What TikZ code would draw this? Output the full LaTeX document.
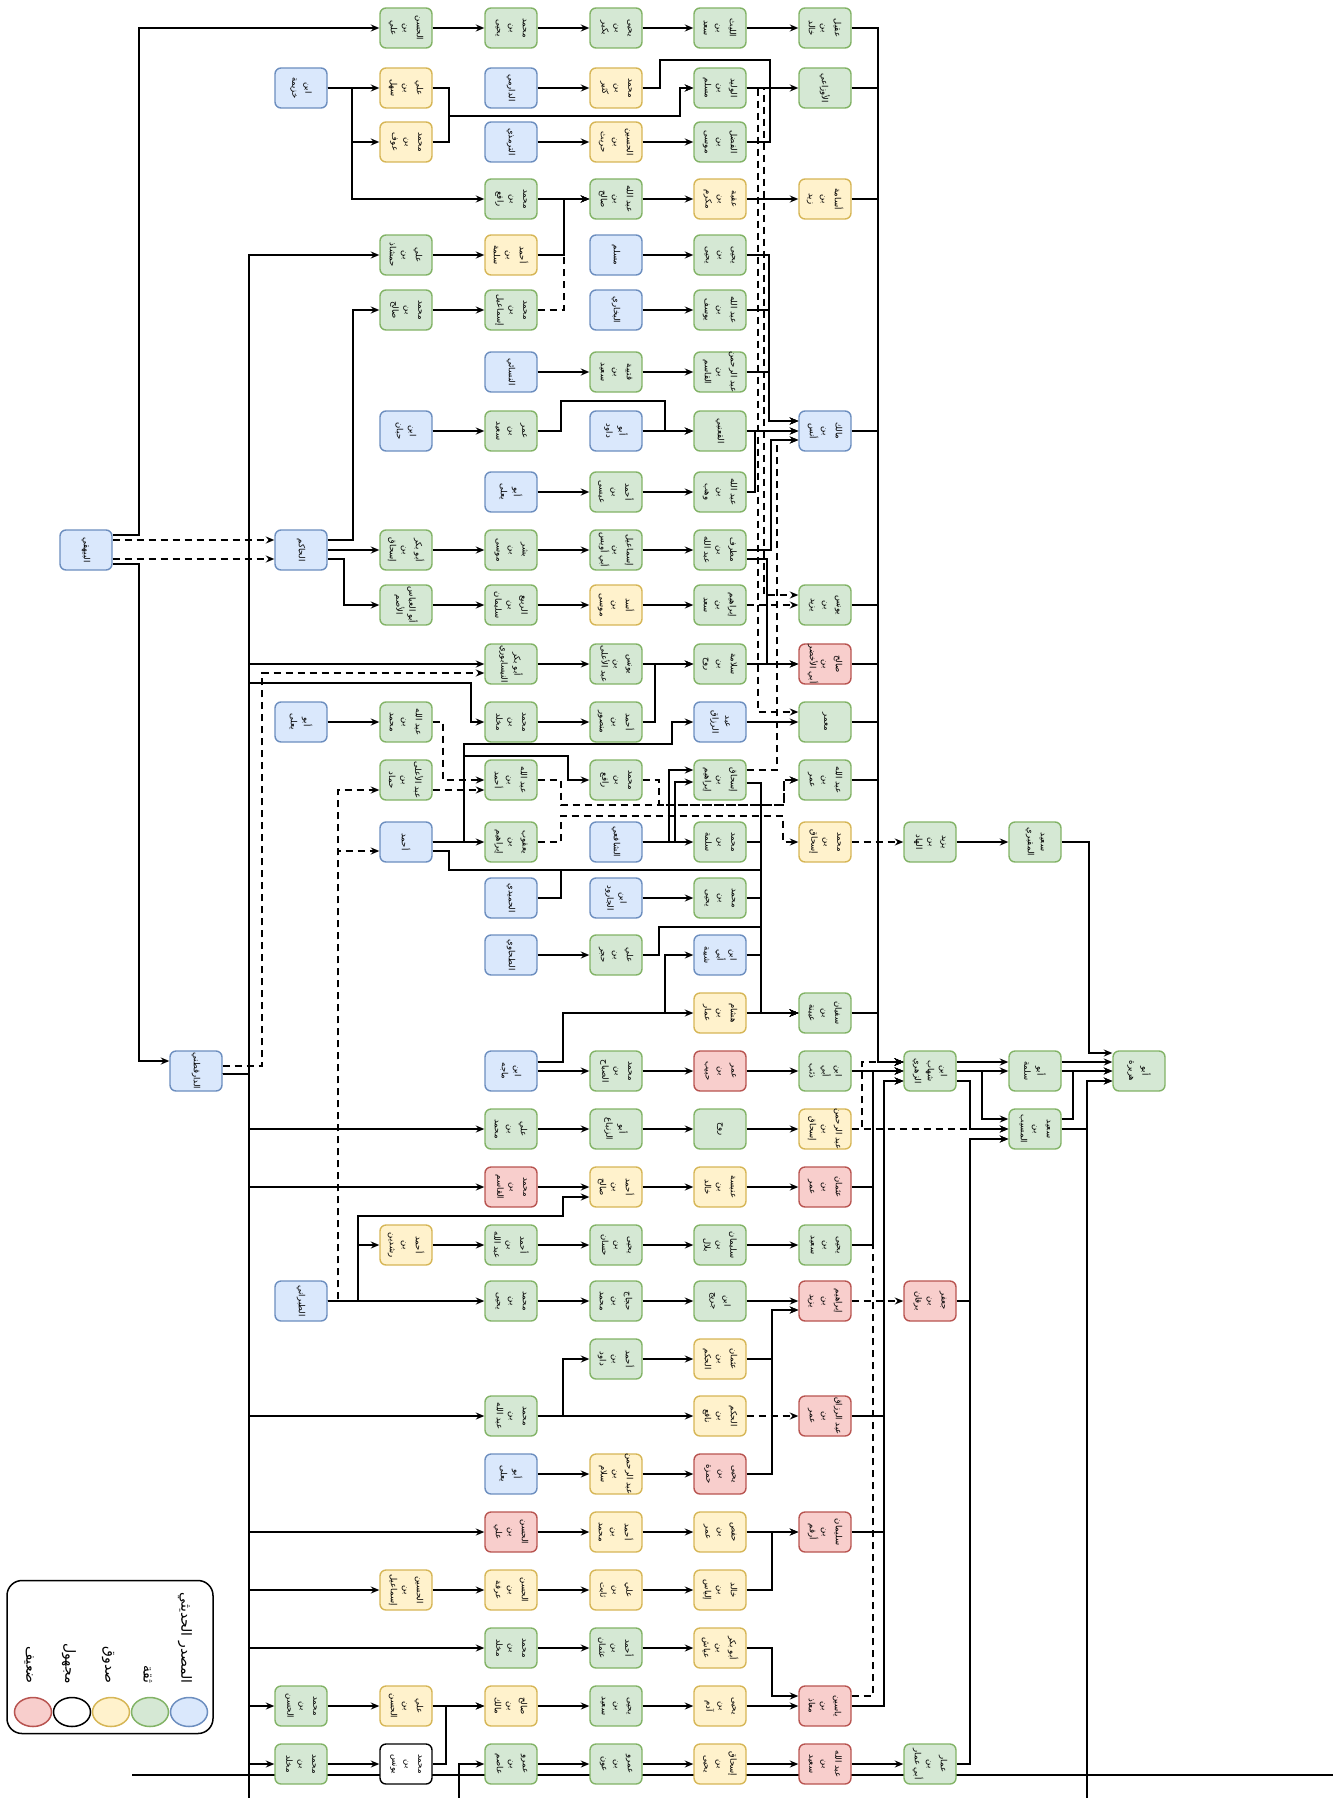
\documentclass[tikz,border=0pt]{standalone}
\usepackage{fontspec}
\usepackage{graphicx}
\usetikzlibrary{arrows.meta,shapes.geometric}
\newfontfamily\arabicfont[Script=Arabic]{DejaVu Sans}
\TeXXeTstate=1
\definecolor{bF}{HTML}{DAE8FC}\definecolor{bD}{HTML}{6C8EBF}
\definecolor{gF}{HTML}{D5E8D4}\definecolor{gD}{HTML}{82B366}
\definecolor{yF}{HTML}{FFF2CC}\definecolor{yD}{HTML}{D6B656}
\definecolor{rF}{HTML}{F8CECC}\definecolor{rD}{HTML}{B85450}
\newcommand\arw[1]{{#1}}
\newcommand\Wa[1]{\arw{#1}}
\newcommand\Wb[2]{\arw{#1}\\\arw{#2}}
\newcommand\Wc[3]{\arw{#1}\\\arw{#2}\\\arw{#3}}
\newcommand\nd[5]{\node[bx,#4] (#1) at (#2,#3) {}; \node[tx] (#1t) at (#1.center) {#5};}
\begin{document}
\begin{tikzpicture}[x=1pt,y=-1pt,
  bx/.style={draw, rounded corners=6pt, minimum width=52pt, minimum height=40pt, inner sep=0pt, line width=1.4pt},
  cB/.style={fill=bF, draw=bD}, cG/.style={fill=gF, draw=gD}, cY/.style={fill=yF, draw=yD},
  cR/.style={fill=rF, draw=rD}, cW/.style={fill=white, draw=black},
  tx/.style={rotate=-90, align=center, font=\arabicfont\fontsize{8.5}{13}\selectfont, inner sep=0pt},
  ln/.style={draw, line width=1.5pt},
  ar/.style={draw, line width=1.5pt, -{Stealth[length=8.5pt,width=7pt]}},
  da/.style={ar, dash pattern=on 7pt off 5pt},
  lt/.style={rotate=-90, font=\arabicfont\fontsize{14}{16}\selectfont, inner sep=0pt, anchor=east}]
\useasboundingbox (0,0) rectangle (1333,1798);
\coordinate (hl1) at (132,1775); \coordinate (hl2) at (1333,1775);
\draw[ln] (hl1) -- (hl2);
\coordinate (bot1) at (249,1798); \coordinate (bot2) at (459,1798); \coordinate (bot4) at (1087,1798);
% ---------------- nodes ----------------
\nd{r0c3}{406}{28}{cG}{\Wc{الحسن}{بن}{علي}}
\nd{r0c4}{511}{28}{cG}{\Wc{محمد}{بن}{يحيى}}
\nd{r0c5}{616}{28}{cG}{\Wc{يحيى}{بن}{بكير}}
\nd{r0c6}{720}{28}{cG}{\Wc{الليث}{بن}{سعد}}
\nd{r0c7}{825}{28}{cG}{\Wc{عقيل}{بن}{خالد}}
\nd{r1c2}{301}{88}{cB}{\Wb{ابن}{خزيمة}}
\nd{r1c3}{406}{88}{cY}{\Wc{علي}{بن}{سهل}}
\nd{r1c4}{511}{88}{cB}{\Wa{الدارمي}}
\nd{r1c5}{616}{88}{cY}{\Wc{محمد}{بن}{كثير}}
\nd{r1c6}{720}{88}{cG}{\Wc{الوليد}{بن}{مسلم}}
\nd{r1c7}{825}{88}{cG}{\Wa{الأوزاعي}}
\nd{r2c3}{406}{142}{cY}{\Wc{محمد}{بن}{عوف}}
\nd{r2c4}{511}{142}{cB}{\Wa{الترمذي}}
\nd{r2c5}{616}{142}{cY}{\Wc{الحسين}{بن}{حريث}}
\nd{r2c6}{720}{142}{cG}{\Wc{الفضل}{بن}{موسى}}
\nd{r3c4}{511}{199}{cG}{\Wc{محمد}{بن}{رافع}}
\nd{r3c5}{616}{199}{cG}{\Wc{\beginR عبد الله\endR}{بن}{صالح}}
\nd{r3c6}{720}{199}{cY}{\Wc{عقبة}{بن}{مكرم}}
\nd{r3c7}{825}{199}{cY}{\Wc{أسامة}{بن}{زيد}}
\nd{r4c3}{406}{255}{cG}{\Wc{علي}{بن}{حمشاذ}}
\nd{r4c4}{511}{255}{cY}{\Wc{أحمد}{بن}{سلمة}}
\nd{r4c5}{616}{255}{cB}{\Wa{مسلم}}
\nd{r4c6}{720}{255}{cG}{\Wc{يحيى}{بن}{يحيى}}
\nd{r5c3}{406}{310}{cG}{\Wc{محمد}{بن}{صالح}}
\nd{r5c4}{511}{310}{cG}{\Wc{محمد}{بن}{إسماعيل}}
\nd{r5c5}{616}{310}{cB}{\Wa{البخاري}}
\nd{r5c6}{720}{310}{cG}{\Wc{\beginR عبد الله\endR}{بن}{يوسف}}
\nd{r6c4}{511}{372}{cB}{\Wa{النسائي}}
\nd{r6c5}{616}{372}{cG}{\Wc{قتيبة}{بن}{سعيد}}
\nd{r6c6}{720}{372}{cG}{\Wc{\beginR عبد الرحمن\endR}{بن}{القاسم}}
\nd{r7c3}{406}{431}{cB}{\Wb{ابن}{حبان}}
\nd{r7c4}{511}{431}{cG}{\Wc{عمر}{بن}{سعيد}}
\nd{r7c5}{616}{431}{cB}{\Wb{أبو}{داود}}
\nd{r7c6}{720}{431}{cG}{\Wa{القعنبي}}
\nd{r7c7}{825}{431}{cB}{\Wc{مالك}{بن}{أنس}}
\nd{r8c4}{511}{492}{cB}{\Wb{أبو}{يعلى}}
\nd{r8c5}{616}{492}{cG}{\Wc{أحمد}{بن}{عيسى}}
\nd{r8c6}{720}{492}{cG}{\Wc{\beginR عبد الله\endR}{بن}{وهب}}
\nd{r9c0}{86}{550}{cB}{\Wa{البيهقي}}
\nd{r9c2}{301}{550}{cB}{\Wa{الحاكم}}
\nd{r9c3}{406}{550}{cG}{\Wc{\beginR أبو بكر\endR}{بن}{إسحاق}}
\nd{r9c4}{511}{550}{cG}{\Wc{بشر}{بن}{موسى}}
\nd{r9c5}{616}{550}{cG}{\Wc{إسماعيل}{بن}{\beginR أبي أويس\endR}}
\nd{r9c6}{720}{550}{cG}{\Wc{مطرف}{بن}{\beginR عبد الله\endR}}
\nd{r10c3}{406}{605}{cG}{\Wb{\beginR أبو العباس\endR}{الأصم}}
\nd{r10c4}{511}{605}{cG}{\Wc{الربيع}{بن}{سليمان}}
\nd{r10c5}{616}{605}{cY}{\Wc{أسد}{بن}{موسى}}
\nd{r10c6}{720}{605}{cG}{\Wc{إبراهيم}{بن}{سعد}}
\nd{r10c7}{825}{605}{cG}{\Wc{يونس}{بن}{يزيد}}
\nd{r11c4}{511}{664}{cG}{\Wb{\beginR أبو بكر\endR}{النيسابوري}}
\nd{r11c5}{616}{664}{cG}{\Wc{يونس}{بن}{\beginR عبد الأعلى\endR}}
\nd{r11c6}{720}{664}{cG}{\Wc{سلامة}{بن}{روح}}
\nd{r11c7}{825}{664}{cR}{\Wc{صالح}{بن}{\beginR أبي الأخضر\endR}}
\nd{r12c2}{301}{722}{cB}{\Wb{أبو}{يعلى}}
\nd{r12c3}{406}{722}{cG}{\Wc{\beginR عبد الله\endR}{بن}{محمد}}
\nd{r12c4}{511}{722}{cG}{\Wc{محمد}{بن}{مخلد}}
\nd{r12c5}{616}{722}{cG}{\Wc{أحمد}{بن}{منصور}}
\nd{r12c6}{720}{722}{cB}{\Wb{عبد}{الرزاق}}
\nd{r12c7}{825}{722}{cG}{\Wa{معمر}}
\nd{r13c3}{406}{780}{cG}{\Wc{\beginR عبد الأعلى\endR}{بن}{حماد}}
\nd{r13c4}{511}{780}{cG}{\Wc{\beginR عبد الله\endR}{بن}{أحمد}}
\nd{r13c5}{616}{780}{cG}{\Wc{محمد}{بن}{رافع}}
\nd{r13c6}{720}{780}{cG}{\Wc{إسحاق}{بن}{إبراهيم}}
\nd{r13c7}{825}{780}{cG}{\Wc{\beginR عبد الله\endR}{بن}{عمر}}
\nd{r14c3}{406}{842}{cB}{\Wa{أحمد}}
\nd{r14c4}{511}{842}{cG}{\Wc{يعقوب}{بن}{إبراهيم}}
\nd{r14c5}{616}{842}{cB}{\Wa{الشافعي}}
\nd{r14c6}{720}{842}{cG}{\Wc{محمد}{بن}{سلمة}}
\nd{r14c7}{825}{842}{cY}{\Wc{محمد}{بن}{إسحاق}}
\nd{r14c8}{930}{842}{cG}{\Wc{يزيد}{بن}{الهاد}}
\nd{r14c9}{1035}{842}{cG}{\Wb{سعيد}{المقبري}}
\nd{r15c4}{511}{898}{cB}{\Wa{الحميدي}}
\nd{r15c5}{616}{898}{cB}{\Wb{ابن}{الجارود}}
\nd{r15c6}{720}{898}{cG}{\Wc{محمد}{بن}{يحيى}}
\nd{r16c4}{511}{955}{cB}{\Wa{الطحاوي}}
\nd{r16c5}{616}{955}{cG}{\Wc{علي}{بن}{حجر}}
\nd{r16c6}{720}{955}{cB}{\Wc{ابن}{أبي}{شيبة}}
\nd{r17c6}{720}{1013}{cY}{\Wc{هشام}{بن}{عمار}}
\nd{r17c7}{825}{1013}{cG}{\Wc{سفيان}{بن}{عيينة}}
\nd{r18c1}{196}{1071}{cB}{\Wa{الدارقطني}}
\nd{r18c4}{511}{1071}{cB}{\Wb{ابن}{ماجه}}
\nd{r18c5}{616}{1071}{cG}{\Wc{محمد}{بن}{الصباح}}
\nd{r18c6}{720}{1071}{cR}{\Wc{عمر}{بن}{حبيب}}
\nd{r18c7}{825}{1071}{cG}{\Wc{ابن}{أبي}{ذئب}}
\nd{r18c8}{930}{1071}{cG}{\Wc{ابن}{شهاب}{الزهري}}
\nd{r18c9}{1035}{1071}{cG}{\Wb{أبو}{سلمة}}
\nd{r18c10}{1139}{1071}{cG}{\Wb{أبو}{هريرة}}
\nd{r19c4}{511}{1129}{cG}{\Wc{علي}{بن}{محمد}}
\nd{r19c5}{616}{1129}{cG}{\Wb{أبو}{الزنباع}}
\nd{r19c6}{720}{1129}{cG}{\Wa{روح}}
\nd{r19c7}{825}{1129}{cY}{\Wc{\beginR عبد الرحمن\endR}{بن}{إسحاق}}
\nd{r19c9}{1035}{1129}{cG}{\Wc{سعيد}{بن}{المسيب}}
\nd{r20c4}{511}{1187}{cR}{\Wc{محمد}{بن}{القاسم}}
\nd{r20c5}{616}{1187}{cY}{\Wc{أحمد}{بن}{صالح}}
\nd{r20c6}{720}{1187}{cY}{\Wc{عنبسة}{بن}{خالد}}
\nd{r20c7}{825}{1187}{cR}{\Wc{عثمان}{بن}{عمر}}
\nd{r21c3}{406}{1245}{cY}{\Wc{أحمد}{بن}{رشدين}}
\nd{r21c4}{511}{1245}{cG}{\Wc{أحمد}{بن}{\beginR عبد الله\endR}}
\nd{r21c5}{616}{1245}{cG}{\Wc{يحيى}{بن}{حسان}}
\nd{r21c6}{720}{1245}{cG}{\Wc{سليمان}{بن}{بلال}}
\nd{r21c7}{825}{1245}{cG}{\Wc{يحيى}{بن}{سعيد}}
\nd{r22c2}{301}{1301}{cB}{\Wa{الطبراني}}
\nd{r22c4}{511}{1301}{cG}{\Wc{محمد}{بن}{يحيى}}
\nd{r22c5}{616}{1301}{cG}{\Wc{حجاج}{بن}{محمد}}
\nd{r22c6}{720}{1301}{cG}{\Wb{ابن}{جريج}}
\nd{r22c7}{825}{1301}{cR}{\Wc{إبراهيم}{بن}{يزيد}}
\nd{r22c8}{930}{1301}{cR}{\Wc{جعفر}{بن}{برقان}}
\nd{r23c5}{616}{1359}{cG}{\Wc{أحمد}{بن}{داود}}
\nd{r23c6}{720}{1359}{cY}{\Wc{عثمان}{بن}{الحكم}}
\nd{r24c4}{511}{1416}{cG}{\Wc{محمد}{بن}{\beginR عبد الله\endR}}
\nd{r24c6}{720}{1416}{cY}{\Wc{الحكم}{بن}{نافع}}
\nd{r24c7}{825}{1416}{cR}{\Wc{\beginR عبد الرزاق\endR}{بن}{عمر}}
\nd{r25c4}{511}{1474}{cB}{\Wb{أبو}{يعلى}}
\nd{r25c5}{616}{1474}{cY}{\Wc{\beginR عبد الرحمن\endR}{بن}{سلام}}
\nd{r25c6}{720}{1474}{cR}{\Wc{يحيى}{بن}{حمزة}}
\nd{r26c4}{511}{1532}{cR}{\Wc{الحسن}{بن}{علي}}
\nd{r26c5}{616}{1532}{cY}{\Wc{أحمد}{بن}{محمد}}
\nd{r26c6}{720}{1532}{cY}{\Wc{حفص}{بن}{عمر}}
\nd{r26c7}{825}{1532}{cR}{\Wc{سليمان}{بن}{أرقم}}
\nd{r27c3}{406}{1590}{cY}{\Wc{الحسين}{بن}{إسماعيل}}
\nd{r27c4}{511}{1590}{cY}{\Wc{الحسن}{بن}{عرفة}}
\nd{r27c5}{616}{1590}{cY}{\Wc{علي}{بن}{ثابت}}
\nd{r27c6}{720}{1590}{cY}{\Wc{خالد}{بن}{إلياس}}
\nd{r28c4}{511}{1648}{cG}{\Wc{محمد}{بن}{مخلد}}
\nd{r28c5}{616}{1648}{cG}{\Wc{أحمد}{بن}{عثمان}}
\nd{r28c6}{720}{1648}{cY}{\Wc{\beginR أبو بكر\endR}{بن}{عياش}}
\nd{r29c2}{301}{1706}{cG}{\Wc{محمد}{بن}{الحسن}}
\nd{r29c3}{406}{1706}{cY}{\Wc{علي}{بن}{الحسن}}
\nd{r29c4}{511}{1706}{cY}{\Wc{صالح}{بن}{مالك}}
\nd{r29c5}{616}{1706}{cG}{\Wc{يحيى}{بن}{سعيد}}
\nd{r29c6}{720}{1706}{cY}{\Wc{يحيى}{بن}{آدم}}
\nd{r29c7}{825}{1706}{cR}{\Wc{ياسين}{بن}{معاذ}}
\nd{r30c2}{301}{1764}{cG}{\Wc{محمد}{بن}{مخلد}}
\nd{r30c3}{406}{1764}{cW}{\Wc{محمد}{بن}{يونس}}
\nd{r30c4}{511}{1764}{cG}{\Wc{عمرو}{بن}{عاصم}}
\nd{r30c5}{616}{1764}{cG}{\Wc{عمرو}{بن}{عون}}
\nd{r30c6}{720}{1764}{cY}{\Wc{إسحاق}{بن}{يحيى}}
\nd{r30c7}{825}{1764}{cR}{\Wc{\beginR عبد الله\endR}{بن}{سعيد}}
\nd{r30c8}{930}{1764}{cG}{\Wc{عمار}{بن}{\beginR أبي عمار\endR}}
% ---------------- legend ----------------
\node[draw, line width=1.5pt, rounded corners=15pt, minimum width=206pt, minimum height=153pt, inner sep=0pt] (leg) at (110,1657) {};
\node[lt] (lg1) at (185,1684) {\beginR المصدر الحديثي\endR};
\node[lt] (lg2) at (148,1684) {ثقة};
\node[lt] (lg3) at (108,1684) {صدوق};
\node[lt] (lg4) at (69,1684) {مجهول};
\node[lt] (lg5) at (29,1684) {ضعيف};
\node[ellipse, cB, line width=1.5pt, minimum width=37pt, minimum height=29pt, inner sep=0pt] (e1) at (189,1712) {};
\node[ellipse, cG, line width=1.5pt, minimum width=37pt, minimum height=29pt, inner sep=0pt] (e2) at (150,1712) {};
\node[ellipse, cY, line width=1.5pt, minimum width=37pt, minimum height=29pt, inner sep=0pt] (e3) at (111,1712) {};
\node[ellipse, cW, line width=1.5pt, minimum width=37pt, minimum height=29pt, inner sep=0pt] (e4) at (72,1712) {};
\node[ellipse, cR, line width=1.5pt, minimum width=37pt, minimum height=29pt, inner sep=0pt] (e5) at (33,1712) {};
% ---------------- connectors ----------------
\foreach \a/\b in {r0c3/r0c4,r0c4/r0c5,r0c5/r0c6,r0c6/r0c7,r1c2/r1c3,r1c4/r1c5,r1c6/r1c7,
  r2c4/r2c5,r2c5/r2c6,r3c4/r3c5,r3c5/r3c6,r3c6/r3c7,r4c3/r4c4,r4c5/r4c6,r5c3/r5c4,r5c5/r5c6,
  r6c4/r6c5,r6c5/r6c6,r7c3/r7c4,r7c5/r7c6,r7c6/r7c7,r8c4/r8c5,r8c5/r8c6,r9c2/r9c3,r9c3/r9c4,
  r9c4/r9c5,r9c5/r9c6,r10c3/r10c4,r10c4/r10c5,r10c5/r10c6,r11c4/r11c5,r11c5/r11c6,r11c6/r11c7,
  r12c2/r12c3,r12c4/r12c5,r12c6/r12c7,r14c3/r14c4,r14c5/r14c6,r14c8/r14c9,r15c5/r15c6,r16c4/r16c5,
  r17c6/r17c7,r18c4/r18c5,r18c5/r18c6,r18c6/r18c7,r18c7/r18c8,r18c8/r18c9,r18c9/r18c10,
  r19c4/r19c5,r19c5/r19c6,r19c6/r19c7,r20c4/r20c5,r20c5/r20c6,r20c6/r20c7,
  r21c3/r21c4,r21c4/r21c5,r21c5/r21c6,r21c6/r21c7,r22c2/r22c4,r22c4/r22c5,r22c5/r22c6,r22c6/r22c7,
  r23c5/r23c6,r24c4/r24c6,r25c4/r25c5,r25c5/r25c6,r26c4/r26c5,r26c5/r26c6,r26c6/r26c7,
  r27c3/r27c4,r27c4/r27c5,r27c5/r27c6,r28c4/r28c5,r28c5/r28c6,
  r29c2/r29c3,r29c3/r29c4,r29c4/r29c5,r29c5/r29c6,r29c6/r29c7,
  r30c2/r30c3,r30c4/r30c5,r30c5/r30c6,r30c6/r30c7,r30c7/r30c8}
  \draw[ar] (\a) -- (\b);
\foreach \a/\b in {r10c6/r10c7,r14c7/r14c8,r22c7/r22c8,r24c6/r24c7,r19c7/r19c9}
  \draw[da] (\a) -- (\b);
% البيهقي
\draw[ar] ([yshift=15pt]r9c0.east) -| (139,28) -- (r0c3.west);
\draw[da] ([yshift=10pt]r9c0.east) -- ([yshift=10pt]r9c2.west);
\draw[da] ([yshift=-9pt]r9c0.east) -- ([yshift=-9pt]r9c2.west);
\draw[ar] ([yshift=-14pt]r9c0.east) -| (139,1061) -- ([yshift=10pt]r18c1.west);
% الحاكم
\draw[ar] ([yshift=10pt]r9c2.east) -| (353,310) -- (r5c3.west);
\draw[ar] ([yshift=-9pt]r9c2.east) -| (344,605) -- (r10c3.west);
% الدارقطني
\draw[ln] ([yshift=-3pt]r18c1.east) -| (bot1);
\foreach \t/\yy in {r4c3/255,r11c4/664,r19c4/1129,r20c4/1187,r24c4/1416,r26c4/1532,r27c3/1590,r28c4/1648,r29c2/1706,r30c2/1764}
  \draw[ar] ([yshift=-3pt]r18c1.east) -| (249,\yy) -- (\t.west);
\draw[ar] ([yshift=-3pt]r18c1.east) -| (249,683) -| (471,722) -- (r12c4.west);
\draw[da] ([yshift=5pt]r18c1.east) -| (262,673) -- ([yshift=-9pt]r11c4.west);
% ابن خزيمة
\draw[ar] (r1c2.east) -| (352,142) -- (r2c3.west);
\draw[ar] (r1c2.east) -| (352,199) -- (r3c4.west);
\draw[ar] (r1c3.east) -| (449,116) -| (680,88) -- (r1c6.west);
\draw[ar] (r2c3.east) -| (449,116) -| (680,88) -- (r1c6.west);
\draw[ln] (r1c5.east) -| (660,60) -| (770,142) -- (r2c6.east);
\draw[da] (r1c6.east) -| (764,595) -- ([yshift=10pt]r10c7.west);
\draw[da] (r1c6.east) -| (758,712) -- ([yshift=10pt]r12c7.west);
% rows 3-9
\draw[ar] (r4c4.east) -| (564,199) -- (r3c5.west);
\draw[da] (r5c4.east) -| (564,199) -- (r3c5.west);
\foreach \s in {r4c6,r5c6,r6c6}
  \draw[ar] (\s.east) -| (769,421) -- ([yshift=10pt]r7c7.west);
\draw[ar] (r7c4.east) -| (561,401) -| (665,431) -- (r7c6.west);
\draw[ar] (r8c6.east) -| (755,431) -- (r7c7.west);
\draw[ar] (r9c6.east) -| (771,440) -- ([yshift=-9pt]r7c7.west);
\draw[ar] ([yshift=-9pt]r9c6.east) -| (767,664) -- (r11c7.west);
\draw[da] ([yshift=10pt]r13c6.east) -| (777,440) -- ([yshift=-9pt]r7c7.west);
% rows 11-17
\draw[ar] (r12c5.east) -| (655,664) -- (r11c6.west);
\draw[da] (r12c3.east) -| (443,780) -- (r13c4.west);
\draw[da] ([yshift=-10pt]r13c3.east) -- ([yshift=-10pt]r13c4.west);
\draw[da] (r22c2.east) -| (338,790) -- ([yshift=-10pt]r13c3.west);
\draw[da] (r22c2.east) -| (338,851) -- ([yshift=-9pt]r14c3.west);
\draw[ar] (r14c3.east) -| (464,744) -| (672,722) -- (r12c6.west);
\draw[ar] (r14c3.east) -| (464,756) -| (568,780) -- (r13c5.west);
\draw[ar] ([yshift=-9pt]r14c3.east) -| (449,870) -| (761,1013) -- (r17c7.west);
\draw[da] (r13c4.east) -| (561,805) -| (784,780) -- (r13c7.west);
\draw[da] (r13c5.east) -| (659,805) -| (784,780) -- (r13c7.west);
\draw[da] (r14c4.east) -| (561,816) -| (783,842) -- (r14c7.west);
\draw[ar] (r14c5.east) -| (669,770) -- ([yshift=10pt]r13c6.west);
\draw[ar] (r14c5.east) -| (675,782) -- ([yshift=-2pt]r13c6.west);
\draw[ar] ([yshift=-3pt]r13c6.east) -| (761,1013) -- (r17c7.west);
\foreach \s in {r14c6,r15c6,r16c6}
  \draw[ar] (\s.east) -| (761,1013) -- (r17c7.west);
\draw[ar] (r15c4.east) -| (561,870) -| (761,1013) -- (r17c7.west);
\draw[ar] (r16c5.east) -| (659,927) -| (761,1013) -- (r17c7.west);
\draw[ar] ([yshift=9pt]r18c4.east) -| (563,1013) -- (r17c6.west);
\draw[ar] ([yshift=9pt]r18c4.east) -| (563,1013) -| (665,955) -- (r16c6.west);
\draw[ar] (r14c9.east) -| (1089,1053) -- ([yshift=18pt]r18c10.west);
% right bus into the hub
\foreach \s in {r0c7,r1c7,r3c7,r7c7,r10c7,r11c7,r12c7,r13c7,r17c7}
  \draw[ar] (\s.east) -| (878,1062) -- ([yshift=9pt]r18c8.west);
\draw[da] (r19c7.east) -| (862,1062) -- ([yshift=9pt]r18c8.west);
\draw[da] ([yshift=10pt]r29c7.east) -| (873,1071) -- (r18c8.west);
\draw[ar] (r20c7.east) -| (873,1071) -- (r18c8.west);
\draw[ar] (r21c7.east) -| (873,1071) -- (r18c8.west);
\foreach \s in {r24c7,r26c7,r29c7}
  \draw[ar] (\s.east) -| (884,1081) -- ([yshift=-10pt]r18c8.west);
\draw[ar] ([yshift=9pt]r18c8.east) -- ([yshift=9pt]r18c9.west);
\draw[ar] (r18c8.east) -| (982,1119) -- ([yshift=10pt]r19c9.west);
\draw[ar] ([yshift=-10pt]r18c8.east) -| (970,1129) -- (r19c9.west);
\draw[ar] (r22c8.east) -| (970,1139) -- ([yshift=-10pt]r19c9.west);
\draw[ar] (r30c8.east) -| (970,1139) -- ([yshift=-10pt]r19c9.west);
\draw[ar] ([yshift=9pt]r18c9.east) -- ([yshift=9pt]r18c10.west);
\draw[ar] ([yshift=10pt]r19c9.east) -| (1073,1071) -- (r18c10.west);
\draw[ar] (r19c9.east) -| (1087,1081) -- ([yshift=-10pt]r18c10.west);
\draw[ar] (bot4) |- ([yshift=-10pt]r18c10.west);
% rows 20-30
\draw[ar] (r22c2.east) -| (358,1245) -- (r21c3.west);
\draw[ar] (r22c2.east) -| (358,1216) -| (563,1197) -- ([yshift=-10pt]r20c5.west);
\draw[ar] (r24c4.east) -| (563,1359) -- (r23c5.west);
\draw[ar] (r23c6.east) -| (772,1310) -- ([yshift=-9pt]r22c7.west);
\draw[ar] (r25c6.east) -| (772,1310) -- ([yshift=-9pt]r22c7.west);
\draw[ar] (r27c6.east) -| (772,1532) -- (r26c7.west);
\draw[ar] (r28c6.east) -| (772,1696) -- ([yshift=10pt]r29c7.west);
\draw[ar] (r30c3.east) -| (446,1706) -- (r29c4.west);
\draw[ar] (bot2) |- (r30c4.west);
\end{tikzpicture}
\end{document}
